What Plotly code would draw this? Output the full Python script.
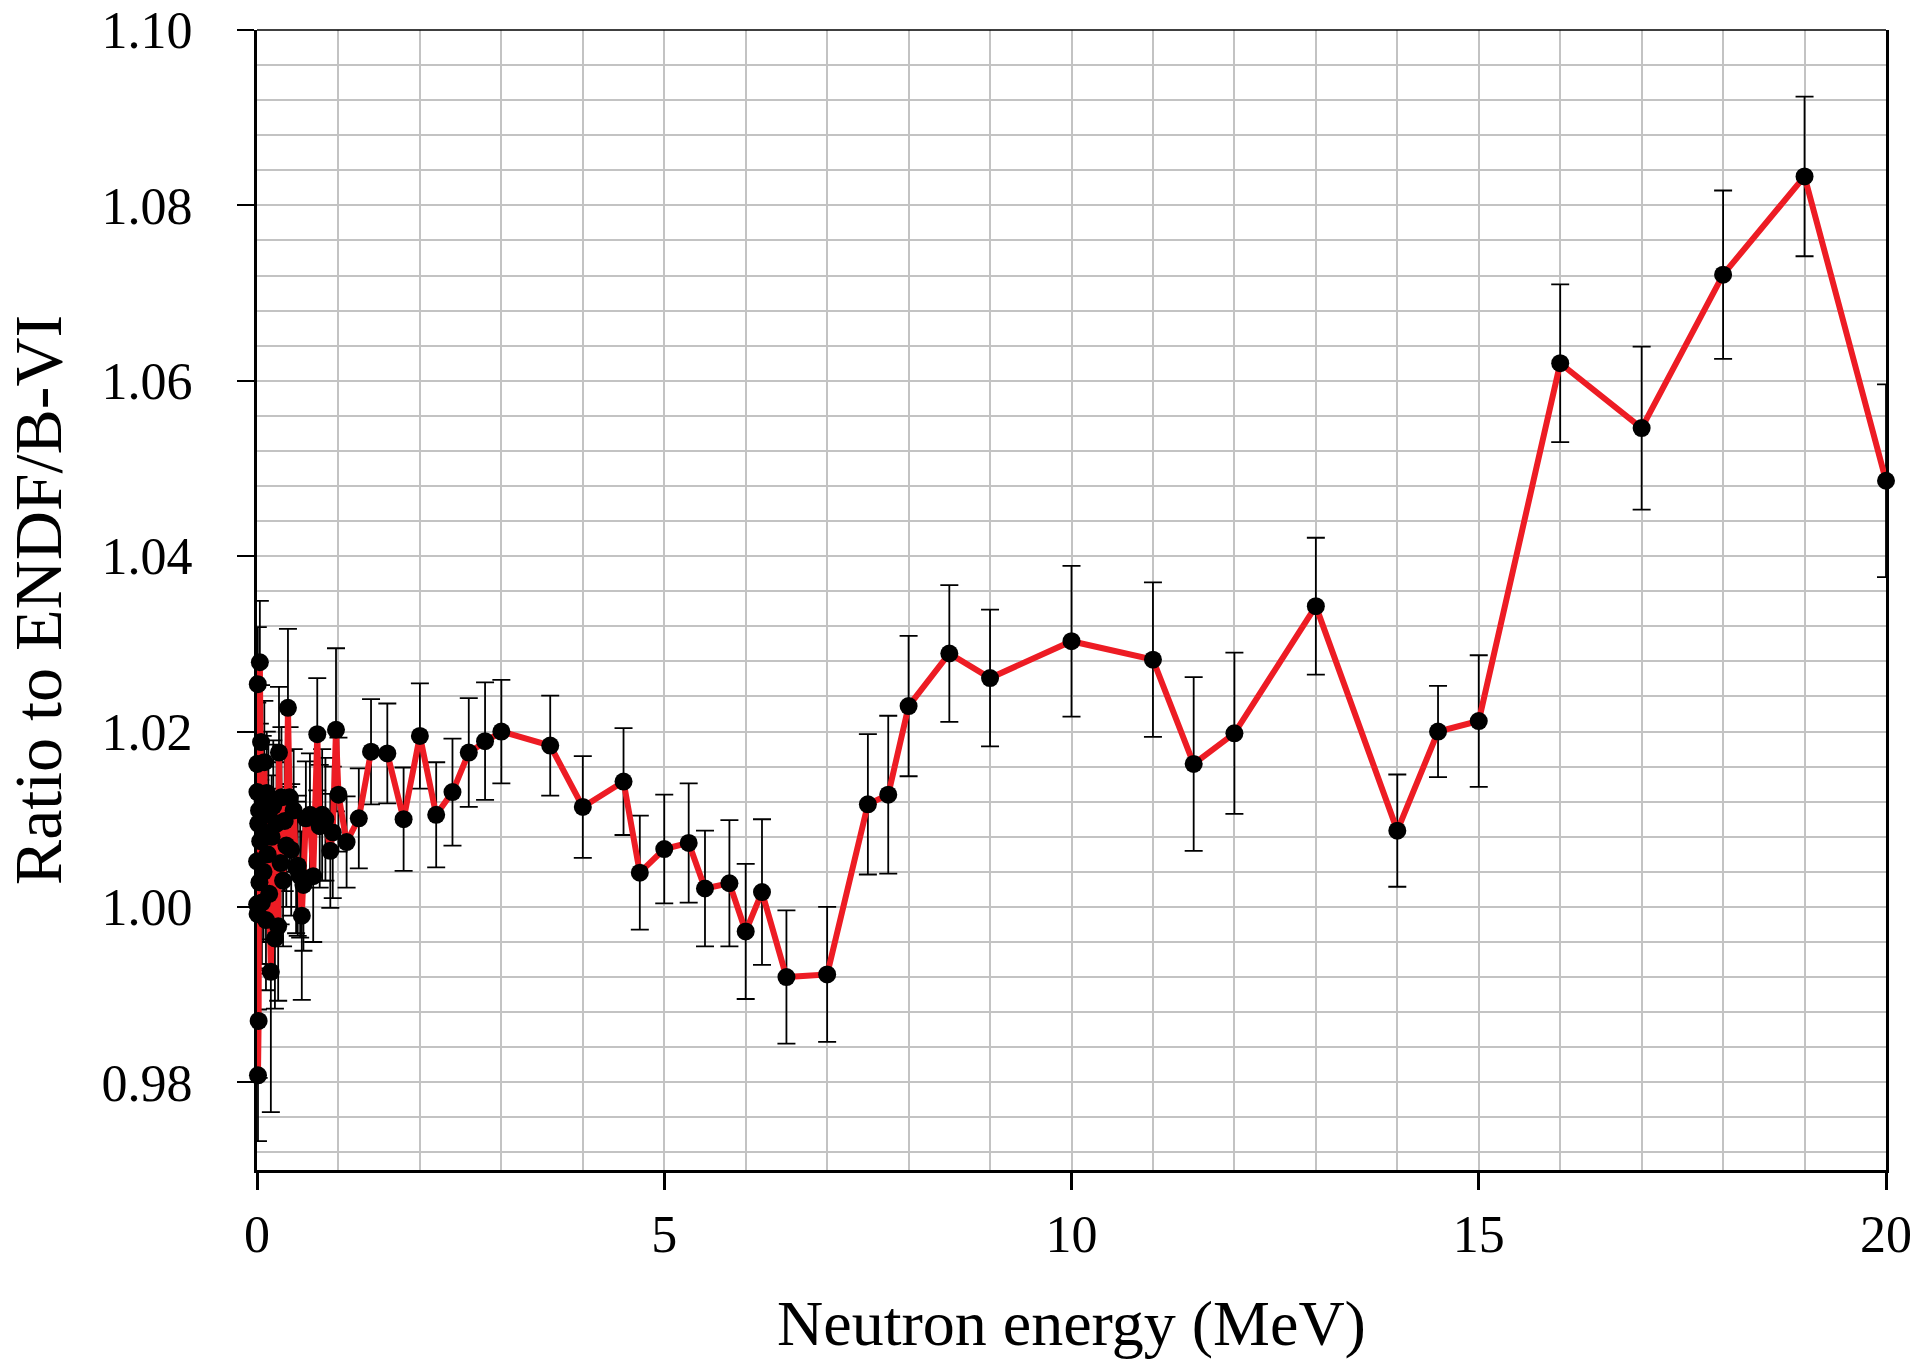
import plotly.graph_objects as go

# Neutron energy (MeV)
energy = [
    0.001, 0.002, 0.003, 0.005, 0.007, 0.010, 0.012, 0.015, 0.020, 0.025,
    0.030, 0.035, 0.040, 0.050, 0.060, 0.070, 0.080, 0.090, 0.100, 0.110,
    0.120, 0.130, 0.140, 0.150, 0.170, 0.180, 0.200, 0.220, 0.240, 0.260,
    0.270, 0.290, 0.300, 0.320, 0.340, 0.360, 0.380, 0.400, 0.420, 0.450,
    0.480, 0.500, 0.530, 0.550, 0.570, 0.600, 0.650, 0.690, 0.740, 0.770,
    0.800, 0.840, 0.900, 0.930, 0.970, 1.000, 1.100, 1.250, 1.400, 1.600,
    1.800, 2.000, 2.200, 2.400, 2.600, 2.800, 3.000, 3.600, 4.000, 4.500,
    4.700, 5.000, 5.300, 5.500, 5.800, 6.000, 6.200, 6.500, 7.000, 7.500,
    7.750, 8.000, 8.500, 9.000, 10.00, 11.00, 11.50, 12.00, 13.00, 14.00,
    14.50, 15.00, 16.00, 17.00, 18.00, 19.00, 20.00,
]

# Ratio to ENDF/B-VI
ratio = [
    1.0052, 1.0003, 1.0163, 1.0131, 0.9992, 1.0254, 0.9808, 1.0095, 0.9870, 1.0110,
    1.0028, 1.0279, 1.0075, 1.0188, 1.0005, 1.0120, 1.0040, 1.0165, 1.0085, 0.9985,
    1.0130, 1.0060, 1.0105, 1.0015, 0.9926, 1.0080, 1.0115, 0.9964, 1.0095, 0.9978,
    1.0176, 1.0050, 1.0125, 1.0030, 1.0098, 1.0070, 1.0227, 1.0125, 1.0065, 1.0110,
    1.0045, 1.0047, 1.0035, 0.9990, 1.0025, 1.0101, 1.0105, 1.0035, 1.0197, 1.0092,
    1.0105, 1.0100, 1.0064, 1.0085, 1.0202, 1.0128, 1.0074, 1.0101, 1.0177, 1.0175,
    1.0100, 1.0195, 1.0105, 1.0131, 1.0176, 1.0189, 1.0200, 1.0184, 1.0114, 1.0143,
    1.0039, 1.0066, 1.0073, 1.0021, 1.0027, 0.9972, 1.0017, 0.9920, 0.9923, 1.0117,
    1.0128, 1.0229, 1.0289, 1.0261, 1.0303, 1.0282, 1.0163, 1.0198, 1.0343, 1.0087,
    1.0200, 1.0212, 1.0620, 1.0546, 1.0721, 1.0833, 1.0486,
]

# Uncertainty (+/-)
uncert = [
    0.0070, 0.0075, 0.0070, 0.0060, 0.0068, 0.0065, 0.0075, 0.0060, 0.0065, 0.0070,
    0.0065, 0.0070, 0.0070, 0.0065, 0.0070, 0.0075, 0.0080, 0.0070, 0.0075, 0.0080,
    0.0070, 0.0075, 0.0080, 0.0085, 0.0160, 0.0070, 0.0075, 0.0080, 0.0070, 0.0085,
    0.0075, 0.0070, 0.0080, 0.0075, 0.0080, 0.0070, 0.0090, 0.0080, 0.0075, 0.0070,
    0.0075, 0.0080, 0.0070, 0.0096, 0.0075, 0.0065, 0.0070, 0.0075, 0.0064, 0.0070,
    0.0075, 0.0070, 0.0065, 0.0075, 0.0093, 0.0065, 0.0052, 0.0057, 0.0060, 0.0057,
    0.0059, 0.0060, 0.0060, 0.0061, 0.0062, 0.0067, 0.0059, 0.0057, 0.0058, 0.0061,
    0.0065, 0.0062, 0.0068, 0.0066, 0.0072, 0.0077, 0.0083, 0.0076, 0.0077, 0.0080,
    0.0090, 0.0080, 0.0078, 0.0078, 0.0086, 0.0088, 0.0099, 0.0092, 0.0078, 0.0064,
    0.0052, 0.0075, 0.0090, 0.0093, 0.0096, 0.0091, 0.0110,
]

x_tickvals = [0, 5, 10, 15, 20]
y_tickvals = [0.98, 1.00, 1.02, 1.04, 1.06, 1.08, 1.10]
y_ticktext = ["0.98", "1.00", "1.02", "1.04", "1.06", "1.08", "1.10"]

FONT = "Liberation Serif, Times New Roman, serif"
GRID = "#c3c3c3"

fig = go.Figure()
fig.add_trace(go.Scatter(
    x=energy, y=ratio, mode="lines+markers",
    line=dict(color="#ed1c24", width=6),
    marker=dict(color="black", size=18),
    error_y=dict(type="data", array=uncert, visible=True,
                 color="black", thickness=1.8, width=9),
    cliponaxis=False, showlegend=False,
))

fig.update_layout(
    width=1916, height=1363,
    margin=dict(l=257, r=30, t=30, b=193),
    paper_bgcolor="white", plot_bgcolor="white",
    font=dict(family=FONT, color="black", size=52),
    xaxis=dict(
        range=[0, 20], tickvals=x_tickvals, ticktext=[str(v) for v in x_tickvals],
        showgrid=True, gridcolor=GRID, gridwidth=2,
        minor=dict(dtick=1, tick0=0, showgrid=True, gridcolor=GRID, gridwidth=2, ticks=""),
        showline=True, linecolor="black", linewidth=3, mirror=False,
        ticks="outside", ticklen=17, tickwidth=3, tickcolor="black",
        tickfont=dict(size=52, family=FONT), zeroline=False, automargin=False,
        title=dict(text="Neutron energy (MeV)", font=dict(size=64, family=FONT), standoff=38),
    ),
    yaxis=dict(
        range=[0.97, 1.10], tickvals=y_tickvals, ticktext=y_ticktext,
        showgrid=True, gridcolor=GRID, gridwidth=2,
        minor=dict(dtick=0.004, tick0=0.98, showgrid=True, gridcolor=GRID, gridwidth=2, ticks=""),
        showline=True, linecolor="black", linewidth=3, mirror=True,
        ticks="outside", ticklen=17, tickwidth=2, tickcolor="black",
        tickfont=dict(size=52, family=FONT), zeroline=False, ticklabelstandoff=34,
        automargin=False,
        title=dict(text="Ratio to ENDF/B-VI", font=dict(size=68, family=FONT), standoff=30),
    ),
    shapes=[dict(type="line", xref="paper", yref="paper", x0=0, x1=1, y0=1, y1=1,
                 line=dict(color="black", width=1.5))],
)

fig.write_html(
    "out.html",
    config={"displayModeBar": False},
    post_script="document.body.style.margin='0';document.body.style.overflow='hidden';",
)
